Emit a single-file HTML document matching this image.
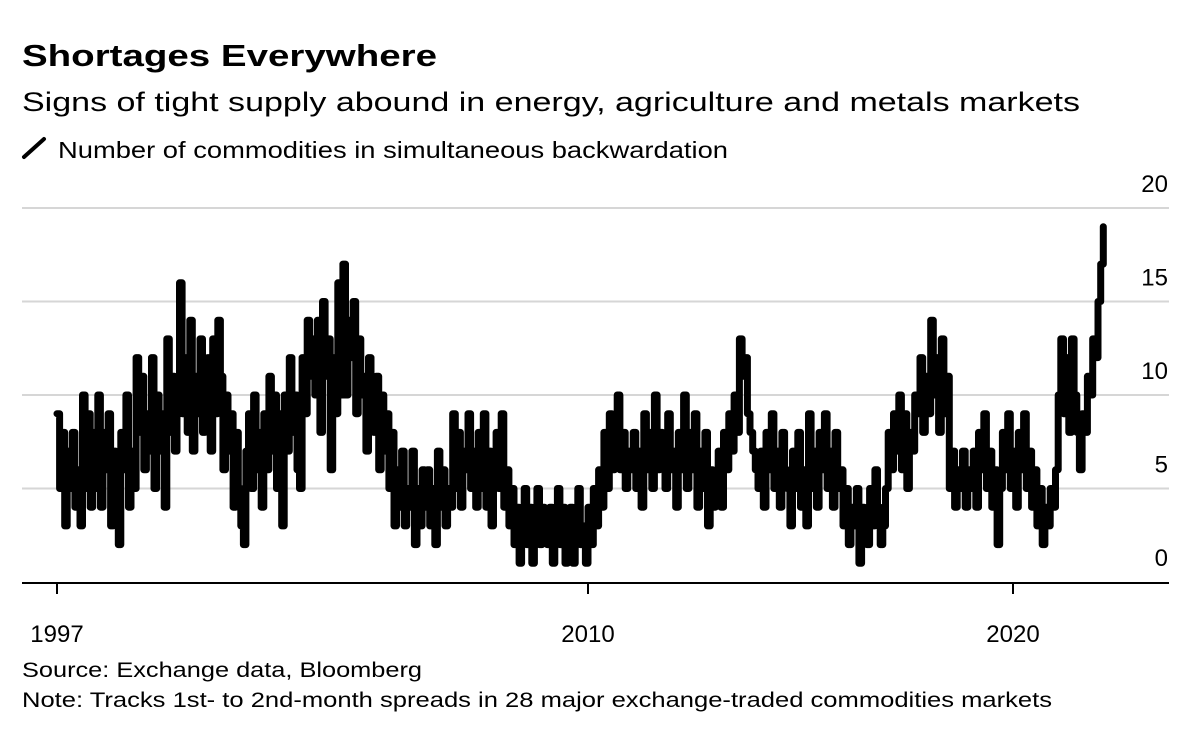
<!DOCTYPE html>
<html><head><meta charset="utf-8"><style>
html,body{margin:0;padding:0;background:#fff;}
svg{display:block;font-family:"Liberation Sans",Arial,sans-serif;}
</style></head><body>
<svg id="chart" width="1200" height="741" viewBox="0 0 1200 741" xmlns="http://www.w3.org/2000/svg">
<text x="22" y="66" font-size="31" font-weight="bold" textLength="415" lengthAdjust="spacingAndGlyphs">Shortages Everywhere</text>
<text x="22" y="111" font-size="27" textLength="1058" lengthAdjust="spacingAndGlyphs">Signs of tight supply abound in energy, agriculture and metals markets</text>
<g>
<line x1="24" y1="157" x2="44" y2="139" stroke="#000" stroke-width="4" stroke-linecap="round"/>
<text x="58" y="158" font-size="23" textLength="670" lengthAdjust="spacingAndGlyphs">Number of commodities in simultaneous backwardation</text>
</g>
<g id="grid"></g>
<g id="ylabels"></g>
<g id="series"></g>
<line x1="22" y1="583" x2="1169" y2="583" stroke="#000" stroke-width="2"/>
<g id="xaxis"></g>
<text x="22" y="677" font-size="21" textLength="400" lengthAdjust="spacingAndGlyphs">Source: Exchange data, Bloomberg</text>
<text x="22" y="707" font-size="21" textLength="1030" lengthAdjust="spacingAndGlyphs">Note: Tracks 1st- to 2nd-month spreads in 28 major exchange-traded commodities markets</text>
</svg>
<script>
const yTicks = [0, 5, 10, 15, 20];
const yTickLabels = ["0", "5", "10", "15", "20"];
const xTicks = [1997, 2010, 2020];
const xTickLabels = ["1997", "2010", "2020"];
const startYear = 1997;
const pointsPerYear = 16;
const values = [
9,5,8,3,7,5,8,4,6,3,10,5,9,4,8,5,
10,4,8,6,9,3,7,5,2,8,6,10,4,7,5,12,
8,11,6,9,7,12,5,10,7,9,4,13,8,11,7,9,
16,9,12,8,14,7,11,9,13,8,10,12,7,13,9,14,
11,6,10,7,9,4,8,5,3,2,7,9,5,10,6,8,
4,9,6,11,7,10,5,9,3,10,7,12,8,10,6,5,
12,9,14,11,13,10,14,8,15,11,13,6,12,9,16,10,
17,10,14,12,15,9,13,10,11,7,12,9,8,11,6,10,
7,9,5,8,3,6,4,7,3,5,4,7,2,5,3,6,
4,6,3,5,2,7,4,6,3,5,4,9,5,8,4,7,
6,9,5,7,4,8,5,9,4,7,3,6,8,5,9,4,
6,3,5,2,4,1,3,5,2,4,1,3,5,2,4,3,
2,4,1,3,5,2,4,1,2,4,1,3,5,2,3,1,
4,2,5,3,6,4,8,5,9,6,7,10,6,8,5,7,
6,8,5,7,4,9,6,8,5,10,6,8,7,5,9,6,
7,4,8,6,10,5,8,6,9,4,7,5,8,3,6,4,
5,7,4,8,6,9,7,10,8,13,11,12,9,8,7,6,
5,7,4,8,6,9,5,7,4,8,6,5,3,7,5,8,
4,6,3,9,5,7,4,8,6,9,5,7,4,8,5,6,
3,5,2,4,3,5,1,4,3,2,5,3,6,4,2,3,
5,8,6,9,7,10,6,9,5,8,7,10,9,12,8,11,
9,14,10,12,8,13,9,11,5,7,4,6,5,7,4,6,
5,7,4,8,6,9,5,7,4,6,2,5,8,6,9,5,
7,4,8,6,9,5,7,4,6,3,5,2,4,3,5,4,
6,10,13,9,12,8,13,10,8,6,9,8,11,10,13,12,
15,17,19
];
const NS = "http://www.w3.org/2000/svg";
function x(year){
  if (year <= 2010) return 57 + (year - 1997) * (588 - 57) / 13;
  return 588 + (year - 2010) * (1013 - 588) / 10;
}
function y(v){ return 582 - v * 18.7; }
const grid = document.getElementById('grid');
const yl = document.getElementById('ylabels');
yTicks.forEach((t, i) => {
  if (t > 0) {
    const l = document.createElementNS(NS, 'line');
    
    
    l.setAttribute('x1', 22); l.setAttribute('x2', 1169);
    l.setAttribute('y1', y(t)); l.setAttribute('y2', y(t));
    l.setAttribute('stroke', '#d6d6d6'); l.setAttribute('stroke-width', '2');
    grid.appendChild(l);
  }
  const tx = document.createElementNS(NS, 'text');
  
  
  tx.setAttribute('x', 1168); tx.setAttribute('y', y(t) - 16);
  tx.setAttribute('text-anchor', 'end'); tx.setAttribute('font-size', '24');
  tx.textContent = yTickLabels[i];
  yl.appendChild(tx);
});
const xa = document.getElementById('xaxis');
xTicks.forEach((t, i) => {
  const l = document.createElementNS(NS, 'line');
  
  
  l.setAttribute('x1', x(t)); l.setAttribute('x2', x(t));
  l.setAttribute('y1', 583); l.setAttribute('y2', 594);
  l.setAttribute('stroke', '#000'); l.setAttribute('stroke-width', '2');
  xa.appendChild(l);
  const tx = document.createElementNS(NS, 'text');
  
  
  tx.setAttribute('x', x(t)); tx.setAttribute('y', 642);
  tx.setAttribute('text-anchor', 'middle'); tx.setAttribute('font-size', '24');
  tx.textContent = xTickLabels[i];
  xa.appendChild(tx);
});
let d = '';
values.forEach((v, i) => {
  const px = x(startYear + i / pointsPerYear).toFixed(1);
  const py = y(v).toFixed(1);
  if (i === 0) d += 'M' + px + ' ' + py;
  else d += 'H' + px + 'V' + py;
});
const p = document.createElementNS(NS, 'path');


p.setAttribute('d', d);
p.setAttribute('fill', 'none'); p.setAttribute('stroke', '#000');
p.setAttribute('stroke-width', '7'); p.setAttribute('stroke-linejoin', 'round'); p.setAttribute('stroke-linecap', 'round');
document.getElementById('series').appendChild(p);
</script>
</body></html>
